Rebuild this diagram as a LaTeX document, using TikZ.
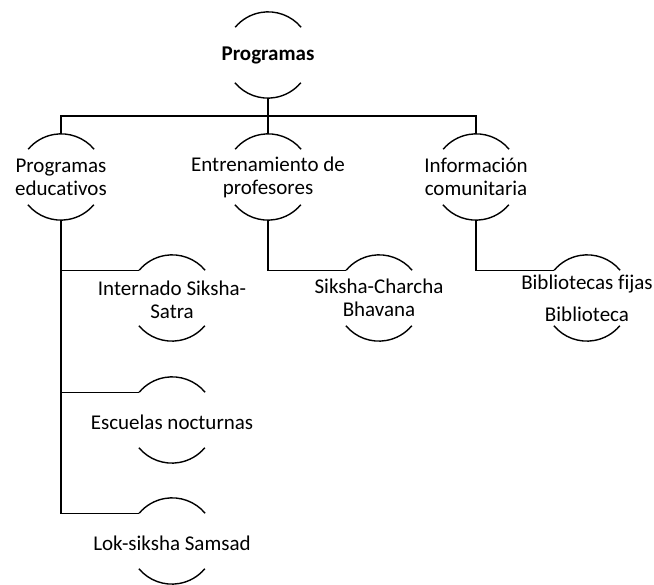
\documentclass[tikz,border=0pt]{standalone}
\usepackage{fontspec}
\setmainfont{Carlito}[RawFeature={-liga}]
\begin{document}
\begin{tikzpicture}[x=1pt,y=1pt,
  hc/.style={circle, minimum size=86pt, inner sep=0pt, draw=none},
  lbl/.style={align=center, inner sep=0pt, font=\fontsize{21}{23}\selectfont},
  ln/.style={line width=1.4pt, black},
  arcline/.style={line width=1.4pt, black}]
\useasboundingbox (0,0) rectangle (654,585);
% circle frames
\node[hc] (root) at (268,530) {};
\node[hc] (edu) at (61,408) {};
\node[hc] (ent) at (268,408) {};
\node[hc] (inf) at (476,408) {};
\node[hc] (int) at (172,287) {};
\node[hc] (esc) at (172,165) {};
\node[hc] (lok) at (172,44) {};
\node[hc] (sik) at (379,287) {};
\node[hc] (bib) at (587,287) {};
% labels
\node[lbl, font=\fontsize{21}{23}\selectfont\bfseries] (root-t) at (root.center) {Programas};
\node[lbl] (edu-t) at (edu.center) {Programas\\educativos};
\node[lbl] (ent-t) at (ent.center) {Entrenamiento de\\profesores};
\node[lbl] (inf-t) at (inf.center) {Información\\comunitaria};
\node[lbl] (int-t) at ([yshift=-2pt]int.center) {Internado Siksha-\\Satra};
\node[lbl] (esc-t) at ([yshift=-2pt]esc.center) {Escuelas nocturnas};
\node[lbl] (lok-t) at ([yshift=-2pt]lok.center) {Lok-siksha Samsad};
\node[lbl] (sik-t) at (sik.center) {Siksha-Charcha\\Bhavana};
\node[lbl] (bib-t) at (bib.center) {Bibliotecas fijas\\[9pt]Biblioteca};
% arcs
\foreach \n in {root,edu,ent,inf,int,esc,lok,sik,bib}{
  \draw[arcline] (\n.40) arc[start angle=40, end angle=140, radius=43pt];
  \draw[arcline] (\n.220) arc[start angle=220, end angle=320, radius=43pt];
}
% connectors
\coordinate (bus) at ([yshift=-18pt]root.south);
\draw[ln] (root.south) -- (bus) -- (ent.north);
\draw[ln] (edu.north) |- (bus) -| (inf.north);
\draw[ln] (edu.south) |- (int.140);
\draw[ln] (edu.south) |- (esc.140);
\draw[ln] (edu.south) |- (lok.140);
\draw[ln] (ent.south) |- (sik.140);
\draw[ln] (inf.south) |- (bib.140);
\end{tikzpicture}
\end{document}
